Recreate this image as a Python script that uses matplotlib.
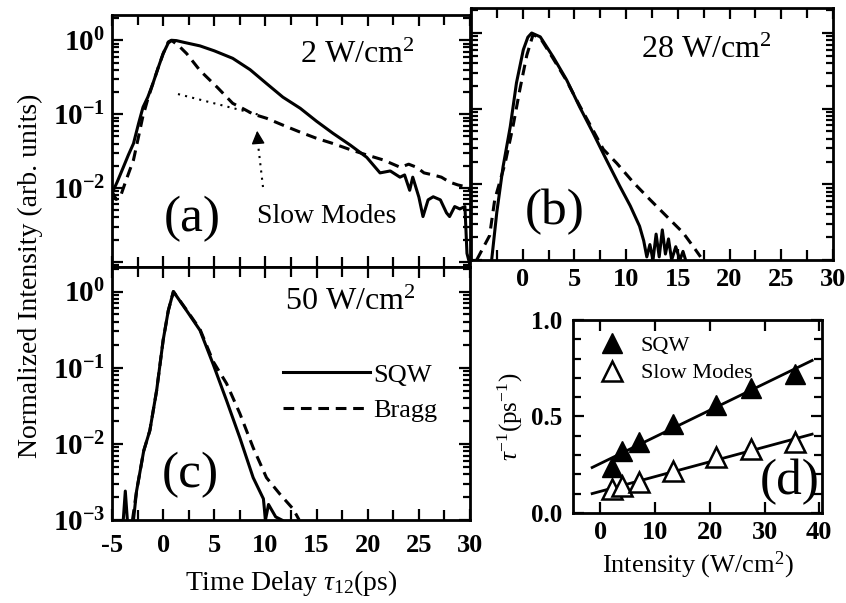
import numpy as np
import matplotlib
matplotlib.use("Agg")
import matplotlib.pyplot as plt
from matplotlib.ticker import MultipleLocator, LogLocator
from matplotlib.lines import Line2D

plt.rcParams['font.family'] = 'Liberation Serif'
plt.rcParams['mathtext.fontset'] = 'custom'
plt.rcParams['mathtext.rm'] = 'Liberation Serif'
plt.rcParams['mathtext.it'] = 'Liberation Serif:italic'
plt.rcParams['mathtext.bf'] = 'Liberation Serif:bold'

# (a) 2 W/cm^2
t_a_sqw = [-5.0, -4.5, -3.9, -3.4, -2.9, -2.4, -1.97, -1.5, -1.0, -0.5, 0.0, 0.5, 0.85, 1.3, 2.0,
           3.6, 5.0, 6.8, 8.5, 10.1, 11.7, 13.4, 15.0, 16.6, 18.3, 19.9, 21.2, 22.2, 23.15, 23.6,
           24.1, 24.4, 25.0, 25.4, 25.9, 26.4, 27.1, 27.7, 28.0, 28.5, 29.0, 29.5, 29.7, 30.0]
i_a_sqw = [0.0085, 0.012, 0.019, 0.028, 0.04, 0.075, 0.124, 0.17, 0.26, 0.42, 0.66, 0.92, 1.0, 0.99, 0.94,
           0.84, 0.72, 0.57, 0.40, 0.26, 0.17, 0.12, 0.08, 0.055, 0.038, 0.026, 0.016, 0.017, 0.014, 0.015,
           0.0093, 0.014, 0.0075, 0.0041, 0.0069, 0.0076, 0.0069, 0.0046, 0.0041, 0.0056, 0.0052, 0.0056, 0.0013, 0.0009]
t_a_bragg = [-5.0, -4.6, -4.2, -3.6, -2.9, -2.4, -2.0, -1.5, -1.0, -0.5, 0.0, 0.5, 0.8, 1.5, 2.3,
             3.6, 5.3, 6.8, 8.0, 8.8, 10.1, 11.7, 13.4, 15.0, 16.6, 18.3, 19.9, 21.5, 23.2, 24.0,
             24.8, 25.5, 26.4, 27.2, 28.0, 28.8, 29.7, 30.0]
i_a_bragg = [0.009, 0.007, 0.0075, 0.013, 0.024, 0.05, 0.091, 0.16, 0.26, 0.42, 0.66, 0.95, 1.0, 0.85, 0.66,
             0.39, 0.23, 0.14, 0.115, 0.10, 0.088, 0.071, 0.057, 0.047, 0.040, 0.033, 0.028, 0.024, 0.019, 0.021,
             0.019, 0.016, 0.015, 0.014, 0.012, 0.011, 0.0103, 0.0095]
# slow-mode extrapolation and arrow
t_slow = [1.45, 9.5]
i_slow = [0.187, 0.097]
arrow_tail = (9.76, 0.0103)
arrow_tip = (9.17, 0.065)

# (b) 28 W/cm^2
t_b_sqw = [-3.0, -2.5, -1.9, -1.2, -0.6, 0.06, 0.5, 0.87, 1.7, 2.96, 4.25, 5.5, 6.8, 8.1, 9.4,
           10.4, 11.3, 11.7, 12.0, 12.3, 12.6, 12.9, 13.2, 13.5, 13.8, 14.1, 14.4, 14.8, 15.2, 15.5, 15.8]
i_b_sqw = [0.001, 0.0043, 0.017, 0.058, 0.22, 0.6, 0.88, 1.0, 0.89, 0.48, 0.24, 0.106, 0.048, 0.021, 0.0094,
           0.0052, 0.0028, 0.0018, 0.0011, 0.0016, 0.001, 0.0022, 0.0011, 0.0025, 0.0012, 0.0019, 0.001,
           0.0015, 0.001, 0.0013, 0.00095]
t_b_bragg = [-4.45, -3.2, -2.7, -1.7, -0.94, -0.27, 0.4, 1.0, 1.7, 2.9, 4.2, 5.5, 6.8, 7.8, 9.1,
             10.7, 12.3, 13.9, 15.5, 16.5, 17.2]
i_b_bragg = [0.001, 0.0021, 0.0063, 0.019, 0.058, 0.18, 0.51, 0.95, 0.86, 0.47, 0.24, 0.11, 0.052, 0.029, 0.019,
             0.0106, 0.0063, 0.0038, 0.0023, 0.0015, 0.0011]

# (c) 50 W/cm^2
t_c_sqw = [-3.9, -3.7, -3.5, -3.2, -2.9, -2.6, -1.9, -1.3, -0.64, 0.0, 0.5, 1.0, 2.3, 3.6, 4.9,
           6.2, 7.5, 8.8, 9.8, 10.0, 10.3, 11.0, 11.6]
i_c_sqw = [0.001, 0.0024, 0.001, 0.0009, 0.001, 0.0024, 0.0081, 0.015, 0.05, 0.23, 0.56, 1.0, 0.56, 0.31, 0.11,
           0.037, 0.012, 0.0036, 0.0019, 0.001, 0.0016, 0.0011, 0.001]
t_c_bragg = [-3.0, -2.6, -1.9, -1.3, -0.64, 0.0, 0.5, 1.0, 2.3, 3.6, 4.9, 6.2, 7.5, 8.8, 10.1,
             11.4, 12.7, 13.3]
i_c_bragg = [0.001, 0.0024, 0.0081, 0.015, 0.05, 0.23, 0.56, 1.0, 0.57, 0.32, 0.12, 0.062, 0.025, 0.0089, 0.0036,
             0.0022, 0.0014, 0.001]

# (d) decay rates vs excitation intensity
power = [2.1, 3.9, 7.0, 13.3, 21.2, 27.6, 35.5]
rate_sqw = [0.24, 0.32, 0.37, 0.46, 0.56, 0.65, 0.72]
rate_slow = [0.125, 0.14, 0.16, 0.215, 0.29, 0.33, 0.37]
fit_range = [-1.5, 38.7]

fig = plt.figure(figsize=(8.46, 6.03), dpi=100)
ax_a = fig.add_axes([0.1324, 0.5572, 0.4232, 0.4179])
ax_b = fig.add_axes([0.5567, 0.5688, 0.4279, 0.4179])
ax_c = fig.add_axes([0.1324, 0.1376, 0.4232, 0.4196])
ax_d = fig.add_axes([0.6773, 0.1493, 0.2943, 0.3201])

lw = 2.2
dash = (0, (3.5, 2.2))

def decade_label(v):
    return r'$\mathbf{10^{%d}}$' % int(round(np.log10(v)))

def style_log(ax, ylim, xlab, ylab):
    ax.set_yscale('log')
    ax.set_xlim(-5, 30)
    ax.set_ylim(*ylim)
    xt = np.arange(-5, 31, 5)
    ax.set_xticks(xt, [('%d' % v if v in xlab else '') for v in xt], fontweight='bold', fontsize=19)
    yt = [1, 0.1, 0.01, 0.001]
    ax.set_yticks(yt, [(decade_label(v) if v in ylab else '') for v in yt], fontsize=21)
    ax.xaxis.set_minor_locator(MultipleLocator(2.5))
    ax.yaxis.set_minor_locator(LogLocator(base=10, subs=np.arange(2, 10), numticks=12))
    ax.tick_params(which='both', direction='in', top=True, right=True, width=1.6)
    ax.tick_params(which='major', length=8, pad=6)
    ax.tick_params(axis='y', which='major', pad=5)
    ax.tick_params(which='minor', length=5)
    ax.tick_params(axis='x', which='minor', length=7)
    for s in ax.spines.values():
        s.set_linewidth(2)

# panel (a)
ax_a.plot(t_a_sqw, i_a_sqw, color='black', lw=lw)
ax_a.plot(t_a_bragg, i_a_bragg, color='black', lw=lw, linestyle=dash)
ax_a.plot(t_slow, i_slow, color='black', lw=1.5, linestyle=(0, (1, 2.5)))
ax_a.plot([arrow_tail[0], arrow_tip[0]], [arrow_tail[1], arrow_tip[1] * 0.8],
          color='black', lw=1.5, linestyle=(0, (1, 2.5)))
ax_a.annotate('', xy=arrow_tip, xytext=(arrow_tip[0] + 0.08, arrow_tip[1] * 0.72),
              arrowprops=dict(arrowstyle='-|>', color='black', lw=1, mutation_scale=20))
style_log(ax_a, (8.5e-4, 2.2), [], [1, 0.1, 0.01])
ax_a.text(0.684, 0.84, '2 W/cm$^2$', transform=ax_a.transAxes, ha='center', va='center', fontsize=23)
ax_a.text(0.225, 0.19, '(a)', transform=ax_a.transAxes, ha='center', va='center', fontsize=37)
ax_a.text(0.60, 0.2, 'Slow Modes', transform=ax_a.transAxes, ha='center', va='center', fontsize=20)

# panel (b)
ax_b.plot(t_b_sqw, i_b_sqw, color='black', lw=lw)
ax_b.plot(t_b_bragg, i_b_bragg, color='black', lw=lw, linestyle=dash)
style_log(ax_b, (1e-3, 2.14), [0, 5, 10, 15, 20, 25, 30], [])
ax_b.text(0.65, 0.83, '28 W/cm$^2$', transform=ax_b.transAxes, ha='center', va='center', fontsize=23)
ax_b.text(0.23, 0.19, '(b)', transform=ax_b.transAxes, ha='center', va='center', fontsize=37)

# panel (c)
ax_c.plot(t_c_sqw, i_c_sqw, color='black', lw=lw, label='SQW')
ax_c.plot(t_c_bragg, i_c_bragg, color='black', lw=lw, linestyle=dash, label='Bragg')
style_log(ax_c, (1e-3, 2.1), list(range(-5, 31, 5)), [1, 0.1, 0.01, 0.001])
ax_c.tick_params(axis='x', which='major', pad=10)
ax_c.text(0.665, 0.86, '50 W/cm$^2$', transform=ax_c.transAxes, ha='center', va='center', fontsize=23)
ax_c.text(0.22, 0.18, '(c)', transform=ax_c.transAxes, ha='center', va='center', fontsize=37)
ax_c.legend(loc='upper left', bbox_to_anchor=(0.478, 0.62), frameon=False, fontsize=19,
            handlelength=3.3, handletextpad=0.1, labelspacing=0.45, borderaxespad=0, borderpad=0)
ax_c.set_xlabel(r'Time Delay $\tau_{12}$(ps)', fontsize=20, labelpad=8)

fig.text(0.036, 0.542, 'Normalized Intensity (arb. units)', rotation=90,
         ha='center', va='center', fontsize=20)

# panel (d)
p_fit = np.array(fit_range)
for rate in (rate_sqw, rate_slow):
    k, b = np.polyfit(power, rate, 1)
    ax_d.plot(p_fit, k * p_fit + b, color='black', lw=2)
ax_d.plot(power, rate_sqw, linestyle='none', marker='^', ms=14, mfc='black', mec='black')
ax_d.plot(power, rate_slow, linestyle='none', marker='^', ms=14, mfc='white', mec='black', mew=1.8)
ax_d.set_xlim(-5, 40.5)
ax_d.set_ylim(0, 1)
ax_d.set_xticks([0, 10, 20, 30, 40], ['0', '10', '20', '30', '40'], fontweight='bold', fontsize=19)
ax_d.set_yticks([0, 0.5, 1.0], ['0.0', '0.5', '1.0'], fontweight='bold', fontsize=18)
ax_d.yaxis.set_minor_locator(MultipleLocator(0.1))
ax_d.tick_params(which='both', direction='in', top=True, right=True, width=1.6)
ax_d.tick_params(which='major', length=8, pad=8)
ax_d.tick_params(axis='x', which='major', pad=6)
ax_d.tick_params(which='minor', length=6)
for s in ax_d.spines.values():
    s.set_linewidth(2)
ax_d.set_xlabel('Intensity (W/cm$^2$)', fontsize=19, labelpad=4)
ax_d.set_ylabel(r'$\tau^{-1}$(ps$^{-1}$)', fontsize=18, labelpad=4)
handles = [Line2D([], [], linestyle='none', marker='^', ms=14, mfc='black', mec='black'),
           Line2D([], [], linestyle='none', marker='^', ms=14, mfc='white', mec='black', mew=1.8)]
ax_d.legend(handles, ['SQW', 'Slow Modes'], loc='upper left', frameon=False, fontsize=16,
            handlelength=2.1, handletextpad=0.25, labelspacing=0.3, borderaxespad=0.3, borderpad=0.4)
ax_d.text(0.87, 0.16, '(d)', transform=ax_d.transAxes, ha='center', va='center', fontsize=37)

fig.savefig('out.png', dpi=100)
